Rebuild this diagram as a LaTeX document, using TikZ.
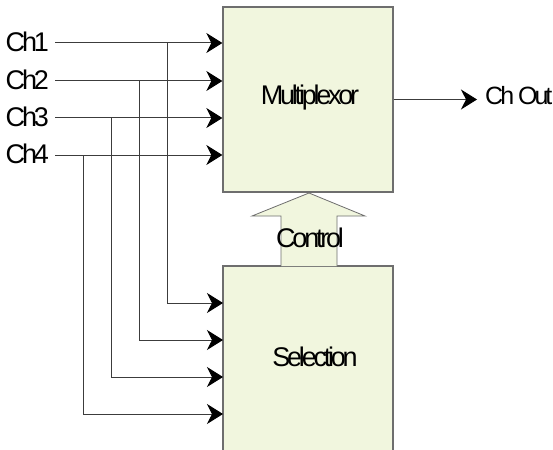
\documentclass[tikz,border=0pt]{standalone}
\usepackage{fontspec}
\newfontfamily\blockfont{Liberation Sans}[LetterSpace=-12]
\usepackage{tikz}
\usetikzlibrary{arrows.meta,positioning}
\definecolor{mxfill}{RGB}{241,246,222}
\definecolor{mxedge}{RGB}{110,110,110}
\definecolor{mxwire}{RGB}{60,60,60}
\tikzset{
  blockbox/.style={rectangle,draw=mxedge,line width=1.3pt,fill=mxfill,minimum width=170pt,inner sep=0pt},
  chlabel/.style={font=\blockfont\fontsize{27}{27}\selectfont,inner ysep=0pt},
  wire/.style={draw=mxwire,line width=1pt},
  inarrow/.style={wire,-{Stealth[length=16pt,width=20pt,inset=5pt,color=black]}}
}

\begin{document}
\begin{tikzpicture}[x=1pt,y=-1pt]
  \useasboundingbox (0,0) rectangle (553,449);
  \clip (0,0) rectangle (553,449);
  % blocks
  \node[blockbox,minimum height=185pt] (mux) at (308,99.5) {};
  \node[chlabel] at (310,98) {Multiplexor};
  \node[blockbox,minimum height=200pt] (sel) at (308,366) {};
  \node[chlabel] at (315,357) {Selection};
  % control arrow between the blocks
  \draw[draw=mxedge,line width=0.8pt,fill=mxfill,line join=miter]
    (281,266) -- (281,216) -- (252,216) -- (309,193) -- (365,216) -- (337,216) -- (337,266);
  \node[chlabel] (ctrl) at (310,238) {Control};
  % channel inputs
  \node[chlabel,anchor=base east,inner xsep=6pt] (ch1) at (55,52) {Ch1};
  \node[chlabel,anchor=base east,inner xsep=6pt] (ch2) at (55,90) {Ch2};
  \node[chlabel,anchor=base east,inner xsep=6pt] (ch3) at (55,127) {Ch3};
  \node[chlabel,anchor=base east,inner xsep=6pt] (ch4) at (55,164) {Ch4};
  \coordinate (in1) at (55,43);
  \coordinate (in2) at (55,81);
  \coordinate (in3) at (55,118);
  \coordinate (in4) at (55,155);
  \draw[inarrow] (in1) -- (in1 -| mux.west);
  \draw[inarrow] (in2) -- (in2 -| mux.west);
  \draw[inarrow] (in3) -- (in3 -| mux.west);
  \draw[inarrow] (in4) -- (in4 -| mux.west);
  % taps down to the selection block
  \coordinate (t1) at (167,43);
  \coordinate (t2) at (139,81);
  \coordinate (t3) at (111,118);
  \coordinate (t4) at (83,155);
  \coordinate (s1) at (223,303);
  \coordinate (s2) at (223,340);
  \coordinate (s3) at (223,377);
  \coordinate (s4) at (223,414);
  \draw[inarrow] (t1) |- (s1);
  \draw[inarrow] (t2) |- (s2);
  \draw[inarrow] (t3) |- (s3);
  \draw[inarrow] (t4) |- (s4);
  % output
  \node[chlabel,font=\blockfont\fontsize{25}{25}\selectfont,anchor=base west,inner xsep=8pt] (out) at (477,105) {Ch Out};
  \draw[inarrow] (mux.east) -- (mux.east -| out.west);
\end{tikzpicture}
\end{document}
